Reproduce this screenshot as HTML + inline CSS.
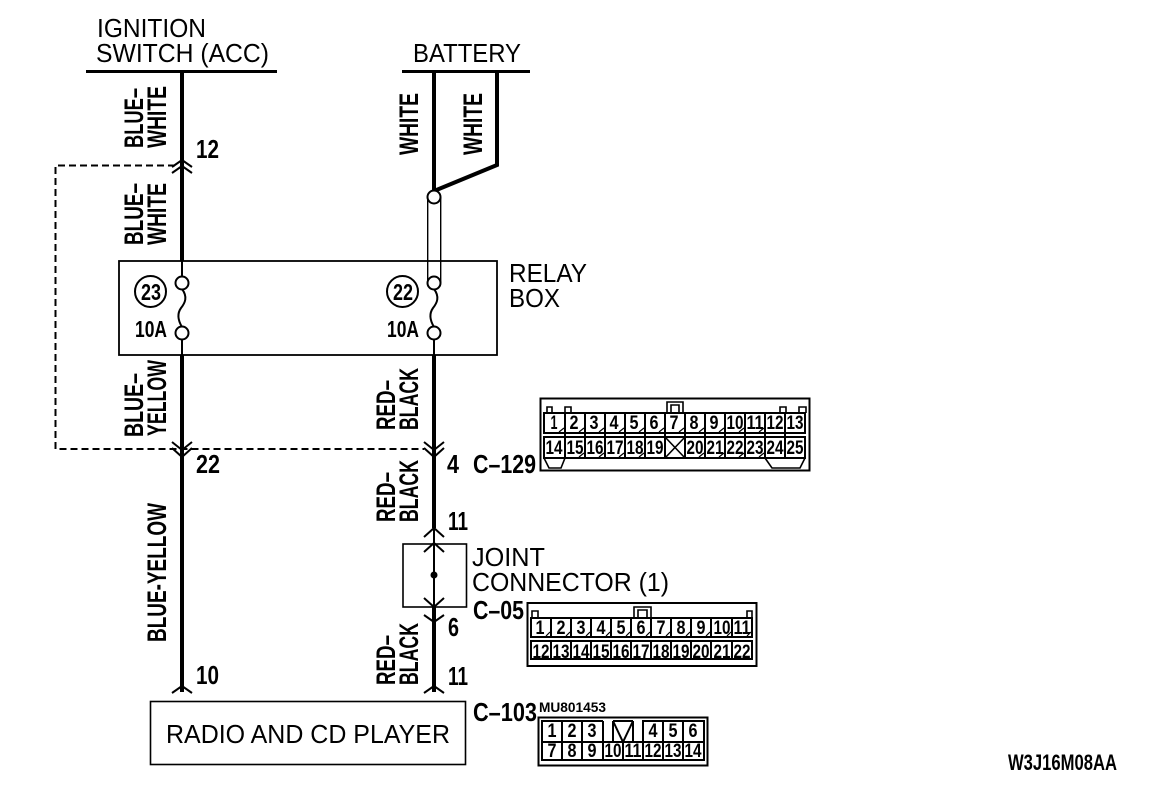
<!DOCTYPE html>
<html><head><meta charset="utf-8"><style>
html,body{margin:0;padding:0;background:#fff}
svg{display:block}
text{font-family:"Liberation Sans",sans-serif;fill:#000}
.r{font-size:26px}
.b{font-size:26px;font-weight:bold}
.v{font-size:27px;font-weight:bold}
.n{font-size:19px;font-weight:bold;text-anchor:middle}
.g{fill:none;stroke:#000}
</style></head><body>
<svg width="1152" height="788" viewBox="0 0 1152 788" xmlns="http://www.w3.org/2000/svg">
<rect width="1152" height="788" fill="#fff"/>
<!-- headers -->
<text class="r" x="97" y="37" textLength="109" lengthAdjust="spacingAndGlyphs">IGNITION</text>
<text class="r" x="96" y="62" textLength="173" lengthAdjust="spacingAndGlyphs">SWITCH (ACC)</text>
<text class="r" x="413" y="62" textLength="108" lengthAdjust="spacingAndGlyphs">BATTERY</text>
<g class="g" stroke-width="3"><path d="M86 71.5H277M402 71.5H530"/></g>
<!-- wires -->
<g class="g" stroke-width="4">
<path d="M182 71V261M182 355V692M434 71V190M434 355V528M434 607V692"/>
<path d="M497 71V165L434 191"/>
</g>
<g class="g" stroke-width="2">
<path d="M182 261V277M182 339V355M434 339V355M434 528V607"/>
<path d="M182 289C188 297 185 303 181 308C176 315 179 322 182 327"/>
<path d="M434 289C440 297 437 303 433 308C428 315 431 322 434 327"/>
</g>
<path d="M427.7 197V283M440.7 197V283" class="g" stroke-width="1.4"/>
<circle cx="434" cy="197" r="6.5" fill="#fff" stroke="#000" stroke-width="2"/>
<!-- relay box -->
<rect x="119" y="261" width="378" height="94" class="g" stroke-width="1.8"/>
<g fill="#fff" stroke="#000" stroke-width="2">
<circle cx="182" cy="283" r="6.5"/><circle cx="182" cy="333" r="6.5"/>
<circle cx="434" cy="283" r="6.5"/><circle cx="434" cy="333" r="6.5"/>
</g>
<g class="g" stroke-width="2"><circle cx="150.5" cy="291.5" r="15.5"/><circle cx="402.5" cy="291.5" r="15.5"/></g>
<text class="b" style="font-size:23px" x="141" y="300" textLength="20" lengthAdjust="spacingAndGlyphs">23</text>
<text class="b" style="font-size:23px" x="393" y="300" textLength="20" lengthAdjust="spacingAndGlyphs">22</text>
<text class="b" style="font-size:23px" x="135" y="337" textLength="32" lengthAdjust="spacingAndGlyphs">10A</text>
<text class="b" style="font-size:23px" x="387" y="337" textLength="32" lengthAdjust="spacingAndGlyphs">10A</text>
<text class="r" x="509" y="282" textLength="78" lengthAdjust="spacingAndGlyphs">RELAY</text>
<text class="r" x="509" y="307" textLength="51" lengthAdjust="spacingAndGlyphs">BOX</text>
<!-- dashed -->
<path d="M175 165.5H55.5V449H424" class="g" stroke-width="2" stroke-dasharray="7 4"/>
<!-- chevrons -->
<g class="g" stroke-width="2">
<path d="M172 167L182 160L192 167M172 173L182 166L192 173"/>
<path d="M172 442L182 450L192 442M172 448L182 457L192 448"/>
<path d="M424 442L434 450L444 442M424 448L434 457L444 448"/>
<path d="M424 537L434 528L444 537M424 552L434 543L444 552"/>
<path d="M424 598L434 607L444 598M424 615L434 622L444 615"/>
<path d="M172 693L182 686L192 693M424 693L434 686L444 693"/>
</g>
<!-- joint connector -->
<rect x="403" y="544" width="63.5" height="63" class="g" stroke-width="1.6"/>
<circle cx="434" cy="575" r="3.5"/>
<text class="r" x="472" y="566" textLength="73" lengthAdjust="spacingAndGlyphs">JOINT</text>
<text class="r" x="472" y="591" textLength="197" lengthAdjust="spacingAndGlyphs">CONNECTOR (1)</text>
<!-- radio -->
<rect x="150.5" y="701.5" width="315" height="63" class="g" stroke-width="1.6"/>
<text class="r" x="166" y="743" textLength="284" lengthAdjust="spacingAndGlyphs">RADIO AND CD PLAYER</text>
<!-- numbers -->
<text class="b" x="196" y="158" textLength="23" lengthAdjust="spacingAndGlyphs">12</text>
<text class="b" x="196" y="473" textLength="24" lengthAdjust="spacingAndGlyphs">22</text>
<text class="b" x="196" y="684" textLength="23" lengthAdjust="spacingAndGlyphs">10</text>
<text class="b" x="447" y="473" textLength="12" lengthAdjust="spacingAndGlyphs">4</text>
<text class="b" x="448" y="530" textLength="20" lengthAdjust="spacingAndGlyphs">11</text>
<text class="b" x="448" y="636" textLength="11" lengthAdjust="spacingAndGlyphs">6</text>
<text class="b" x="448" y="685" textLength="20" lengthAdjust="spacingAndGlyphs">11</text>
<text class="b" x="473" y="473" textLength="63" lengthAdjust="spacingAndGlyphs">C–129</text>
<text class="b" x="473" y="619" textLength="51" lengthAdjust="spacingAndGlyphs">C–05</text>
<text class="b" x="473" y="721" textLength="64" lengthAdjust="spacingAndGlyphs">C–103</text>
<text class="b" style="font-size:14px" x="539" y="712" textLength="67" lengthAdjust="spacingAndGlyphs">MU801453</text>
<text class="b" style="font-size:22px" x="1008" y="770" textLength="109" lengthAdjust="spacingAndGlyphs">W3J16M08AA</text>
<!-- vertical labels -->
<text class="v" transform="translate(143 148) rotate(-90)" textLength="60" lengthAdjust="spacingAndGlyphs">BLUE–</text>
<text class="v" transform="translate(166 148) rotate(-90)" textLength="62" lengthAdjust="spacingAndGlyphs">WHITE</text>
<text class="v" transform="translate(143 245) rotate(-90)" textLength="62" lengthAdjust="spacingAndGlyphs">BLUE–</text>
<text class="v" transform="translate(166 245) rotate(-90)" textLength="62" lengthAdjust="spacingAndGlyphs">WHITE</text>
<text class="v" transform="translate(143 437) rotate(-90)" textLength="64" lengthAdjust="spacingAndGlyphs">BLUE–</text>
<text class="v" transform="translate(166 436) rotate(-90)" textLength="76" lengthAdjust="spacingAndGlyphs">YELLOW</text>
<text class="v" transform="translate(166 642) rotate(-90)" textLength="139" lengthAdjust="spacingAndGlyphs">BLUE-YELLOW</text>
<text class="v" transform="translate(418 155) rotate(-90)" textLength="62" lengthAdjust="spacingAndGlyphs">WHITE</text>
<text class="v" transform="translate(482 155) rotate(-90)" textLength="62" lengthAdjust="spacingAndGlyphs">WHITE</text>
<text class="v" transform="translate(395 430) rotate(-90)" textLength="50" lengthAdjust="spacingAndGlyphs">RED–</text>
<text class="v" transform="translate(418 430) rotate(-90)" textLength="62" lengthAdjust="spacingAndGlyphs">BLACK</text>
<text class="v" transform="translate(395 522) rotate(-90)" textLength="50" lengthAdjust="spacingAndGlyphs">RED–</text>
<text class="v" transform="translate(418 522) rotate(-90)" textLength="62" lengthAdjust="spacingAndGlyphs">BLACK</text>
<text class="v" transform="translate(395 685) rotate(-90)" textLength="50" lengthAdjust="spacingAndGlyphs">RED–</text>
<text class="v" transform="translate(418 685) rotate(-90)" textLength="62" lengthAdjust="spacingAndGlyphs">BLACK</text>

<!-- C-129 -->
<rect x="540.5" y="398.5" width="269" height="72" class="g" stroke-width="2"/>
<g class="g" stroke-width="2">
<path d="M544 413H805V433H544ZM544 437H805V458H544Z"/>
<path d="M565 413V458M585 413V458M605 413V458M625 413V458M645 413V458M665 413V458M685 413V458M705 413V458M725 413V458M745 413V458M765 413V458M785 413V458"/>
</g>
<g class="g" stroke-width="1.6">
<path d="M547 413V407H552V413M565 413V407H571V413M780 413V407H786V413M799 413V407H806V413"/>
<path d="M667 413V402H683V413M671 413V405H679V413"/>
<path d="M665 458L685 437M665 437L685 458"/>
<path d="M544 458L549 468H561L565 458M765 458L772 468H800L805 458"/>
</g>
<path class="g" stroke-width="1.2" d="M559 432L564 428M579 432L584 428M599 432L604 428M619 432L624 428M639 432L644 428M659 432L664 428M679 432L684 428M699 432L704 428M719 432L724 428M739 432L744 428M759 432L764 428M579 457L584 453M599 457L604 453M619 457L624 453M639 457L644 453M699 457L704 453M719 457L724 453M739 457L744 453M759 457L764 453"/>
<g>
<text class="n" x="554" y="429" textLength="7" lengthAdjust="spacingAndGlyphs">1</text>
<text class="n" x="574" y="429" textLength="9" lengthAdjust="spacingAndGlyphs">2</text>
<text class="n" x="594" y="429" textLength="9" lengthAdjust="spacingAndGlyphs">3</text>
<text class="n" x="614" y="429" textLength="9" lengthAdjust="spacingAndGlyphs">4</text>
<text class="n" x="634" y="429" textLength="9" lengthAdjust="spacingAndGlyphs">5</text>
<text class="n" x="654" y="429" textLength="9" lengthAdjust="spacingAndGlyphs">6</text>
<text class="n" x="674" y="429" textLength="9" lengthAdjust="spacingAndGlyphs">7</text>
<text class="n" x="694" y="429" textLength="9" lengthAdjust="spacingAndGlyphs">8</text>
<text class="n" x="714" y="429" textLength="9" lengthAdjust="spacingAndGlyphs">9</text>
<text class="n" x="735" y="429" textLength="17" lengthAdjust="spacingAndGlyphs">10</text>
<text class="n" x="755" y="429" textLength="17" lengthAdjust="spacingAndGlyphs">11</text>
<text class="n" x="775" y="429" textLength="17" lengthAdjust="spacingAndGlyphs">12</text>
<text class="n" x="795" y="429" textLength="17" lengthAdjust="spacingAndGlyphs">13</text>
<text class="n" x="554" y="454" textLength="17" lengthAdjust="spacingAndGlyphs">14</text>
<text class="n" x="575" y="454" textLength="17" lengthAdjust="spacingAndGlyphs">15</text>
<text class="n" x="595" y="454" textLength="17" lengthAdjust="spacingAndGlyphs">16</text>
<text class="n" x="615" y="454" textLength="17" lengthAdjust="spacingAndGlyphs">17</text>
<text class="n" x="635" y="454" textLength="17" lengthAdjust="spacingAndGlyphs">18</text>
<text class="n" x="655" y="454" textLength="17" lengthAdjust="spacingAndGlyphs">19</text>
<text class="n" x="695" y="454" textLength="17" lengthAdjust="spacingAndGlyphs">20</text>
<text class="n" x="715" y="454" textLength="17" lengthAdjust="spacingAndGlyphs">21</text>
<text class="n" x="735" y="454" textLength="17" lengthAdjust="spacingAndGlyphs">22</text>
<text class="n" x="755" y="454" textLength="17" lengthAdjust="spacingAndGlyphs">23</text>
<text class="n" x="775" y="454" textLength="17" lengthAdjust="spacingAndGlyphs">24</text>
<text class="n" x="795" y="454" textLength="17" lengthAdjust="spacingAndGlyphs">25</text>
</g>

<!-- C-05 -->
<rect x="527.5" y="603" width="229" height="63" class="g" stroke-width="2"/>
<g class="g" stroke-width="2">
<path d="M531 618H752V637H531ZM531 641H752V659H531Z"/>
<path d="M551 618V637M571 618V637M591 618V637M611 618V637M631 618V637M651 618V637M671 618V637M691 618V637M711 618V637M732 618V637M551 641V659M571 641V659M591 641V659M611 641V659M631 641V659M651 641V659M671 641V659M691 641V659M711 641V659M732 641V659"/>
</g>
<g class="g" stroke-width="1.6">
<path d="M532 618V611H538V618M747 618V611H752V618"/>
<path d="M634 618V607H651V618M638 618V610H647V618"/>
</g>
<path class="g" stroke-width="1.2" d="M546 636L550 632M566 636L570 632M586 636L590 632M606 636L610 632M626 636L630 632M646 636L650 632M666 636L670 632M686 636L690 632M706 636L710 632M727 636L731 632M747 636L751 632"/>
<g>
<text class="n" x="540" y="634" textLength="9" lengthAdjust="spacingAndGlyphs">1</text>
<text class="n" x="561" y="634" textLength="9" lengthAdjust="spacingAndGlyphs">2</text>
<text class="n" x="581" y="634" textLength="9" lengthAdjust="spacingAndGlyphs">3</text>
<text class="n" x="601" y="634" textLength="9" lengthAdjust="spacingAndGlyphs">4</text>
<text class="n" x="621" y="634" textLength="9" lengthAdjust="spacingAndGlyphs">5</text>
<text class="n" x="641" y="634" textLength="9" lengthAdjust="spacingAndGlyphs">6</text>
<text class="n" x="661" y="634" textLength="9" lengthAdjust="spacingAndGlyphs">7</text>
<text class="n" x="681" y="634" textLength="9" lengthAdjust="spacingAndGlyphs">8</text>
<text class="n" x="701" y="634" textLength="9" lengthAdjust="spacingAndGlyphs">9</text>
<text class="n" x="722" y="634" textLength="17" lengthAdjust="spacingAndGlyphs">10</text>
<text class="n" x="742" y="634" textLength="17" lengthAdjust="spacingAndGlyphs">11</text>
<text class="n" x="541" y="658" textLength="17" lengthAdjust="spacingAndGlyphs">12</text>
<text class="n" x="561" y="658" textLength="17" lengthAdjust="spacingAndGlyphs">13</text>
<text class="n" x="581" y="658" textLength="17" lengthAdjust="spacingAndGlyphs">14</text>
<text class="n" x="601" y="658" textLength="17" lengthAdjust="spacingAndGlyphs">15</text>
<text class="n" x="621" y="658" textLength="17" lengthAdjust="spacingAndGlyphs">16</text>
<text class="n" x="641" y="658" textLength="17" lengthAdjust="spacingAndGlyphs">17</text>
<text class="n" x="661" y="658" textLength="17" lengthAdjust="spacingAndGlyphs">18</text>
<text class="n" x="681" y="658" textLength="17" lengthAdjust="spacingAndGlyphs">19</text>
<text class="n" x="701" y="658" textLength="17" lengthAdjust="spacingAndGlyphs">20</text>
<text class="n" x="722" y="658" textLength="17" lengthAdjust="spacingAndGlyphs">21</text>
<text class="n" x="742" y="658" textLength="17" lengthAdjust="spacingAndGlyphs">22</text>
</g>

<!-- C-103 -->
<rect x="538.5" y="717.5" width="169" height="48" class="g" stroke-width="2"/>
<g class="g" stroke-width="2">
<path d="M603 721H542V760H704V721H643V742M542 742H704"/>
<path d="M562 721V760M582 721V760M603 721V760M623 742V760M643 742V760M663 721V760M683 721V760"/>
<path d="M613 721V742M633 721V742M613 721H633M613 721L623 742L633 721"/>
</g>
<g>
<text class="n" x="552" y="737" textLength="9" lengthAdjust="spacingAndGlyphs">1</text>
<text class="n" x="572" y="737" textLength="9" lengthAdjust="spacingAndGlyphs">2</text>
<text class="n" x="592" y="737" textLength="9" lengthAdjust="spacingAndGlyphs">3</text>
<text class="n" x="653" y="737" textLength="9" lengthAdjust="spacingAndGlyphs">4</text>
<text class="n" x="673" y="737" textLength="9" lengthAdjust="spacingAndGlyphs">5</text>
<text class="n" x="693" y="737" textLength="9" lengthAdjust="spacingAndGlyphs">6</text>
<text class="n" x="552" y="757" textLength="9" lengthAdjust="spacingAndGlyphs">7</text>
<text class="n" x="572" y="757" textLength="9" lengthAdjust="spacingAndGlyphs">8</text>
<text class="n" x="592" y="757" textLength="9" lengthAdjust="spacingAndGlyphs">9</text>
<text class="n" x="613" y="757" textLength="17" lengthAdjust="spacingAndGlyphs">10</text>
<text class="n" x="633" y="757" textLength="17" lengthAdjust="spacingAndGlyphs">11</text>
<text class="n" x="653" y="757" textLength="17" lengthAdjust="spacingAndGlyphs">12</text>
<text class="n" x="673" y="757" textLength="17" lengthAdjust="spacingAndGlyphs">13</text>
<text class="n" x="693" y="757" textLength="17" lengthAdjust="spacingAndGlyphs">14</text>
</g>
</svg>
</body></html>
